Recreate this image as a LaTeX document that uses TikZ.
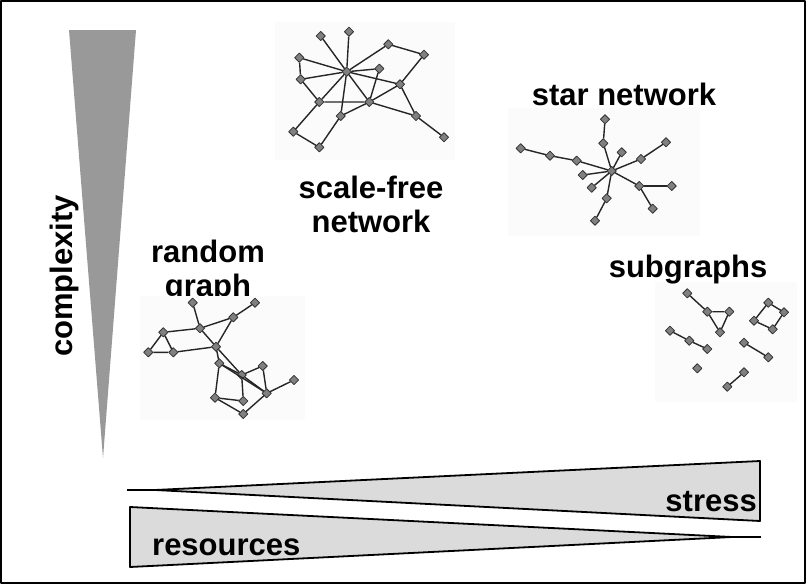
\documentclass[tikz,border=0pt]{standalone}
\usepackage{fontspec}
\setmainfont{Liberation Sans}
\begin{document}
\begin{tikzpicture}[x=1pt,y=-1pt,line join=round,font=\fontsize{31}{34}\selectfont\bfseries,
    vtx/.style={rectangle,rotate=45,draw=black!80,fill=black!50,minimum size=6.5pt,inner sep=0pt,line width=0.8pt},
    lnk/.style={black!85,line width=1.4pt},
    wedge/.style={draw=black,line width=1.8pt,fill=black!14},
    lbl/.style={inner sep=0pt,align=center}]
    \useasboundingbox (0,0) rectangle (806,584);
    \draw[line width=1.5pt] (1,1) rectangle (805,583);
    % complexity
    \fill[black!40] (69,30) -- (136,30) -- (103,458) -- cycle;
    \node[lbl,rotate=90] (cplx) at (64,276) {complexity};
    % picture backgrounds
    \fill[black!1.5] (275,22) rectangle (455,160);
    \fill[black!1.5] (508,108) rectangle (700,236);
    \node[lbl,anchor=north] (rndtxt) at (208,240) {random\\graph};
    \fill[black!1.5] (140,296) rectangle (305,420);
    \fill[black!1.5] (655,282) rectangle (797,402);
    % labels
    \node[lbl,anchor=north] (sftxt) at (371,176) {scale-free\\network};
    \node[lbl,anchor=base] (startxt) at (624,105) {star network};
    \node[lbl,anchor=base] (subtxt) at (688,277) {subgraphs};
    % scale-free network
    \foreach \n/\x/\y in {a/320.7/36,b/349/31.7,c/388.3/44.3,d/424/54.7,e/299.3/57.7,H/346.7/71.7,
        f/379.3/68.7,g/300.7/79.3,h/400/84.3,i/319.3/102,j/369.3/102,k/340.7/116,l/416/116,
        m/293.3/131.7,n/319.3/147.3,o/444/137.3}
        \node[vtx] (sf\n) at (\x,\y) {};
    \foreach \a/\b in {H/a,H/b,H/c,c/d,d/h,H/e,H/g,e/g,H/f,H/h,H/i,H/j,H/k,f/j,i/j,g/i,
        i/m,m/n,n/k,k/j,j/l,j/h,h/l,l/o}
        \draw[lnk] (sf\a) -- (sf\b);
    % star network
    \foreach \n/\x/\y in {S/611.7/171,1/605/119.3,2/603.3/143.3,3/520.7/148.3,4/550/155.7,
        5/576.7/160.7,6/621.7/152.3,7/666/142.3,8/641/159,9/582.7/175,10/591.7/187.7,
        11/639.3/186,12/671.7/186,13/606.7/198.3,14/652.7/208.7,15/595/220.7}
        \node[vtx] (st\n) at (\x,\y) {};
    \foreach \a/\b in {1/2,2/S,3/4,4/5,5/S,6/S,7/8,8/S,9/S,10/S,S/11,11/12,11/14,S/13,13/15}
        \draw[lnk] (st\a) -- (st\b);
    % random graph
    \foreach \n/\x/\y in {1/192.7/302.7,2/255/302.7,3/233.3/317.3,4/200/328.3,5/163.3/332.3,
        6/148.3/352.3,7/173.3/352.3,8/216/346.7,9/219.3/363.3,10/262.7/366,11/241.7/375,
        12/294/380,13/266.7/393.3,14/215/397.7,15/243.3/401,16/243.3/414}
        \node[vtx] (rg\n) at (\x,\y) {};
    \foreach \a/\b in {1/4,2/3,3/4,3/8,4/5,4/8,5/6,6/7,5/7,7/8,8/9,8/11,9/11,9/14,9/13,
        11/10,10/13,11/13,11/15,12/13,14/15,14/16,16/13}
        \draw[lnk] (rg\a) -- (rg\b);
    % subgraphs
    \foreach \n/\x/\y in {1/687.3/293.3,2/707.3/311.7,3/729.3/311.7,4/720/332.3,5/768.3/302.7,
        6/784/312.3,7/754/320.7,8/772.7/329.3,9/670/330.7,10/689.3/340.7,11/707.3/349,
        12/744/342.7,13/768.3/357.3,14/697.3/368.3,15/744/372.3,16/727.3/386.7}
        \node[vtx] (sg\n) at (\x,\y) {};
    \foreach \a/\b in {1/2,2/3,3/4,2/4,5/6,6/8,8/7,7/5,9/10,10/11,12/13,15/16}
        \draw[lnk] (sg\a) -- (sg\b);
    % stress and resources
    \draw[wedge] (155,490) -- (760,461) -- (760,521) -- cycle;
    \draw[line width=1.8pt] (127,490) -- (155,490);
    \node[lbl,anchor=base east] (strs) at (757,511) {stress};
    \draw[wedge] (130,507) -- (732,537) -- (130,567) -- cycle;
    \draw[line width=1.8pt] (732,537) -- (761,537);
    \node[lbl,anchor=base west] (res) at (152,555) {resources};
\end{tikzpicture}
\end{document}
